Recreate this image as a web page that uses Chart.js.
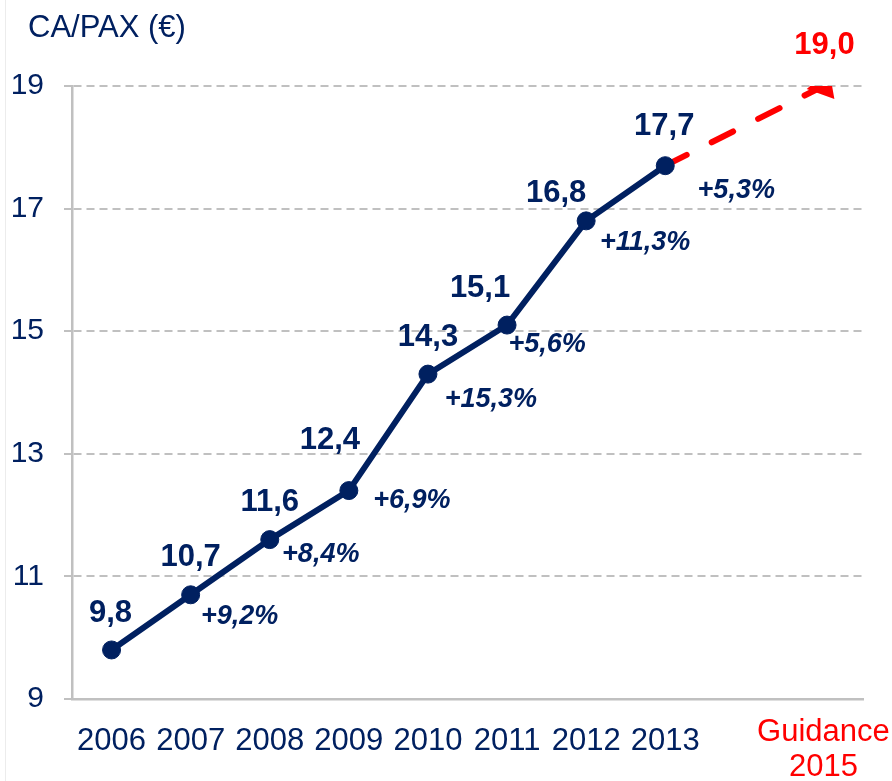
<!DOCTYPE html>
<html><head><meta charset="utf-8">
<script src="https://cdn.jsdelivr.net/npm/chart.js@4/dist/chart.umd.min.js"></script>
<style>
html,body{margin:0;padding:0;background:#fff;}
#wrap{position:relative;width:892px;height:781px;}
#edge{position:absolute;left:5px;top:0;width:1px;height:781px;background:#ececec;}
</style></head>
<body><div id="wrap"><div id="edge"></div><canvas id="c" width="892" height="781"></canvas></div>
<script>
// ---- data ----
const categories = ['2006','2007','2008','2009','2010','2011','2012','2013','',['Guidance','2015']];
const caPax = [9.8,10.7,11.6,12.4,14.3,15.1,16.8,17.7,null,null];
const guidance = [null,null,null,null,null,null,null,17.7,null,19.0];
const growthLabels = [null,'+9,2%','+8,4%','+6,9%','+15,3%','+5,6%','+11,3%','+5,3%',null,null];
const yTicks = [9,11,13,15,17,19];
const axisTitle = 'CA/PAX (€)';

// ---- styling ----
const NAVY = '#002060', RED = '#ff0000', GRID = '#c0c0c0';
const FONT = "'Liberation Sans', Arial, sans-serif";
const valueOffsets = [[-1,-37],[0,-37],[0,-37],[-19,-50],[0,-37],[-27,-37],[-30,-27],[-1,-39]];
const growthOffsets = [null,[49,22],[51,15],[63,10],[63,25],[40,19],[59,22],[71,25]];
const fmt = v => v.toFixed(1).replace('.', ',');

const labelPlugin = {
  id: 'labels',
  afterDatasetsDraw(chart) {
    const ctx = chart.ctx;
    ctx.save();
    ctx.textAlign = 'center';
    ctx.textBaseline = 'middle';
    const m0 = chart.getDatasetMeta(0);
    m0.data.forEach((pt, i) => {
      if (caPax[i] == null) return;
      const o = valueOffsets[i];
      ctx.fillStyle = NAVY;
      ctx.font = "bold 31px " + FONT;
      ctx.fillText(fmt(caPax[i]), pt.x + o[0], pt.y + o[1]);
      if (growthLabels[i]) {
        const g = growthOffsets[i];
        ctx.font = "italic bold 27px " + FONT;
        ctx.fillText(growthLabels[i], pt.x + g[0], pt.y + g[1]);
      }
    });
    const m1 = chart.getDatasetMeta(1);
    const last = m1.data[9];
    ctx.fillStyle = RED;
    ctx.font = "bold 31px " + FONT;
    ctx.fillText(fmt(guidance[9]), last.x + 1, last.y - 41);
    // axis title
    ctx.textAlign = 'left';
    ctx.fillStyle = NAVY;
    ctx.font = "31px " + FONT;
    ctx.fillText(axisTitle, 28, 28);
    ctx.restore();
  }
};

new Chart(document.getElementById('c'), {
  type: 'line',
  data: {
    labels: categories,
    datasets: [
      {
        data: caPax,
        borderColor: NAVY,
        backgroundColor: NAVY,
        borderWidth: 6,
        pointRadius: 9,
        pointBackgroundColor: NAVY,
        pointBorderColor: NAVY,
        pointBorderWidth: 1,
        tension: 0,
        spanGaps: false
      },
      {
        data: guidance,
        borderColor: RED,
        backgroundColor: RED,
        borderWidth: 6,
        borderDash: [24, 28],
        borderCapStyle: 'round',
        spanGaps: true,
        pointStyle: 'triangle',
        pointRotation: 20,
        pointRadius: ctx => ctx.dataIndex === 9 ? 11 : 0,
        pointBackgroundColor: RED,
        pointBorderColor: RED,
        tension: 0
      }
    ]
  },
  options: {
    responsive: false,
    animation: false,
    devicePixelRatio: 1,
    layout: { padding: { top: 86, right: 29, bottom: 0, left: 0 } },
    plugins: { legend: { display: false }, tooltip: { enabled: false }, title: { display: false } },
    scales: {
      x: {
        offset: true,
        grid: { display: false, drawTicks: false },
        border: { display: true, color: GRID, width: 2.5 },
        ticks: {
          autoSkip: false,
          maxRotation: 0,
          minRotation: 0,
          padding: 16,
          color: ctx => ctx.index === 9 ? RED : NAVY,
          font: ctx => ({ family: FONT, size: 31, lineHeight: ctx.index === 9 ? '35px' : '53px' })
        },
        afterFit: s => { s.height = 82; s.paddingLeft = 0; s.paddingRight = 0; }
      },
      y: {
        min: 9, max: 19,
        afterBuildTicks: s => { s.ticks = yTicks.map(v => ({ value: v })); },
        grid: { color: GRID, lineWidth: 2, tickLength: 8, drawTicks: true },
        border: { display: true, color: GRID, width: 2.5, dash: [8, 5] },
        ticks: { color: NAVY, padding: 20, font: { family: FONT, size: 30 } },
        afterFit: s => { s.width = 72; s.paddingTop = 0; s.paddingBottom = 0; }
      }
    }
  },
  plugins: [labelPlugin]
});
</script>
</body></html>
